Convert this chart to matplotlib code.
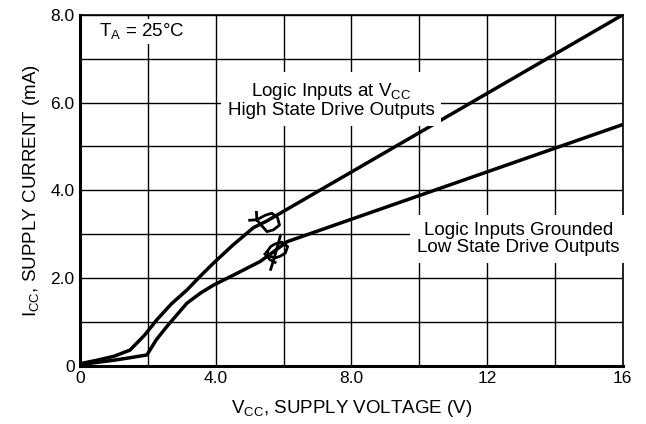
import matplotlib
matplotlib.use("Agg")
import matplotlib.pyplot as plt

plt.rcParams['font.family'] = ['Liberation Sans', 'DejaVu Sans']
plt.rcParams['mathtext.fontset'] = 'custom'
plt.rcParams['mathtext.rm'] = 'Liberation Sans'

# upper curve: logic inputs at VCC
vcc_high = [0.0, 0.5, 1.0, 1.47, 1.9, 2.26, 2.7, 3.15, 3.55, 3.93, 4.5, 5.11, 5.5, 16.0]
icc_high = [0.05, 0.13, 0.22, 0.36, 0.7, 1.05, 1.42, 1.73, 2.05, 2.34, 2.75, 3.15, 3.3, 8.0]

# lower curve: logic inputs grounded
vcc_low = [0.0, 0.5, 1.0, 1.5, 1.97, 2.25, 2.56, 3.15, 3.55, 3.93, 4.6, 5.31, 5.7, 6.1, 16.0]
icc_low = [0.03, 0.08, 0.13, 0.19, 0.25, 0.6, 0.9, 1.43, 1.66, 1.84, 2.1, 2.38, 2.6, 2.83, 5.5]

# hysteresis loops
loop_high_x = [5.21, 5.45, 5.65, 5.82, 5.88, 5.7, 5.51, 5.35, 5.21]
loop_high_y = [3.33, 3.43, 3.48, 3.38, 3.21, 3.1, 3.06, 3.2, 3.33]
arrow_high_x = [5.0, 5.21, 5.2]
arrow_high_y = [3.32, 3.33, 3.5]

loop_low_x = [5.51, 5.62, 5.75, 5.95, 6.12, 6.05, 5.9, 5.75, 5.6, 5.51]
loop_low_y = [2.6, 2.72, 2.78, 2.82, 2.72, 2.57, 2.5, 2.46, 2.5, 2.6]
tail_low_x = [5.9, 5.72, 5.62]
tail_low_y = [2.95, 2.45, 2.2]
arrow_low_x = [5.45, 5.6, 5.75]
arrow_low_y = [2.55, 2.42, 2.36]

x_ticks = [0, 4, 8, 12, 16]
x_labels = ['0', '4.0', '8.0', '12', '16']
y_ticks = [0, 2, 4, 6, 8]
y_labels = ['0', '2.0', '4.0', '6.0', '8.0']

fig, ax = plt.subplots(figsize=(6.46, 4.24), dpi=100)
fig.subplots_adjust(left=0.124, right=0.964, top=0.965, bottom=0.137)

for gx in range(0, 17, 2):
    ax.axvline(gx, color='black', lw=1.0, zorder=1)
for gy in range(0, 9):
    ax.axhline(gy, color='black', lw=1.0, zorder=1)

ax.plot(vcc_high, icc_high, color='black', lw=2.5, zorder=3, solid_capstyle='round')
ax.plot(vcc_low, icc_low, color='black', lw=2.5, zorder=3, solid_capstyle='round')
ax.plot(loop_high_x, loop_high_y, color='black', lw=2.0, zorder=3)
ax.plot(arrow_high_x, arrow_high_y, color='black', lw=2.0, zorder=3)
ax.plot(loop_low_x, loop_low_y, color='black', lw=2.0, zorder=3)
ax.plot(tail_low_x, tail_low_y, color='black', lw=2.0, zorder=3)
ax.plot(arrow_low_x, arrow_low_y, color='black', lw=2.0, zorder=3)

ax.set_xlim(0, 16)
ax.set_ylim(0, 8)
ax.set_xticks(x_ticks)
ax.set_xticklabels(x_labels)
ax.set_yticks(y_ticks)
ax.set_yticklabels(y_labels)
ax.tick_params(length=0, labelsize=12.5, pad=4)

for s in ['left', 'bottom']:
    ax.spines[s].set_linewidth(2.2)
for s in ['top', 'right']:
    ax.spines[s].set_linewidth(1.2)
for s in ax.spines.values():
    s.set_zorder(4)

ax.set_xlabel(r'V$_{\mathregular{CC}}$, SUPPLY VOLTAGE (V)', fontsize=13.5, labelpad=8)
ax.set_ylabel(r'I$_{\mathregular{CC}}$, SUPPLY CURRENT (mA)', fontsize=13.5, labelpad=6)

box = dict(facecolor='white', edgecolor='none', pad=2)
ax.text(0.55, 7.62, r'T$_{\mathregular{A}}$ = 25°C', fontsize=13.5, va='center', ha='left',
        bbox=box, zorder=5)
ax.text(7.4, 6.06, 'Logic Inputs at V$_{\\mathregular{CC}}$\nHigh State Drive Outputs',
        fontsize=13.5, va='center', ha='center', linespacing=1.0,
        bbox=dict(facecolor='white', edgecolor='none', pad=5), zorder=5)
ax.text(12.92, 2.89, 'Logic Inputs Grounded\nLow State Drive Outputs',
        fontsize=13.5, va='center', ha='center', linespacing=1.0,
        bbox=dict(facecolor='white', edgecolor='none', pad=5), zorder=5)

plt.savefig('out.png', dpi=100)
